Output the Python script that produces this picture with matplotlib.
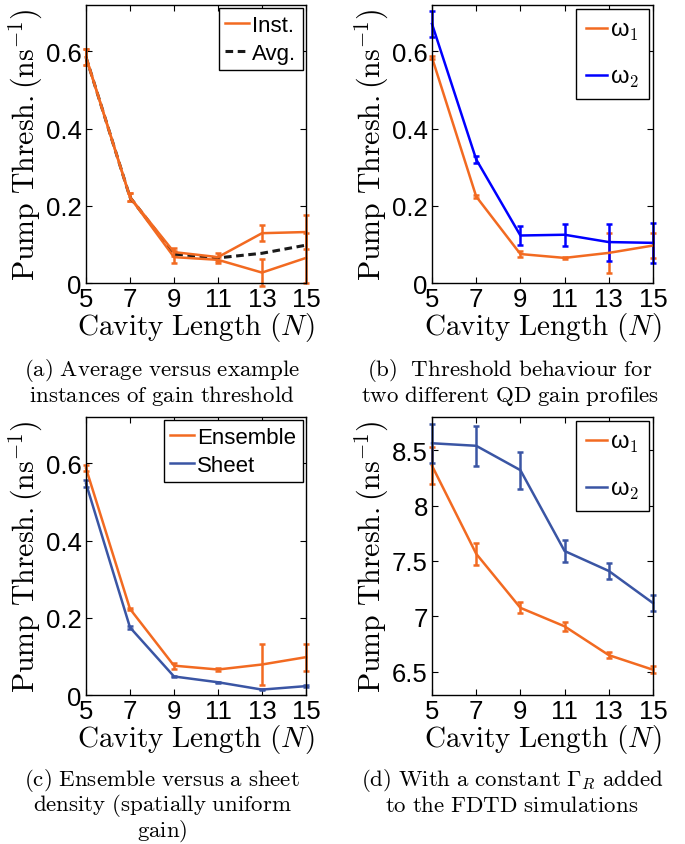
import matplotlib
matplotlib.use("Agg")
import matplotlib.pyplot as plt
from matplotlib.ticker import FuncFormatter

plt.rcParams['mathtext.fontset'] = 'cm'
plt.rcParams['font.family'] = ['Liberation Sans', 'DejaVu Sans']

ORANGE = '#F26A21'
BLUE_B = '#0000FF'
BLUE_CD = '#3A55A4'

N = [5, 7, 9, 11, 13, 15]

# (a) instances and average
a_inst1 = [0.585, 0.222, 0.080, 0.067, 0.129, 0.132]
a_inst1_err = [0.020, 0.010, 0.010, 0.010, 0.021, 0.043]
a_inst2 = [0.585, 0.222, 0.067, 0.060, 0.027, 0.065]
a_inst2_err = [0.020, 0.010, 0.016, 0.008, 0.036, 0.065]
a_avg = [0.585, 0.222, 0.075, 0.065, 0.077, 0.098]

# (b) two gain profiles
b_w1 = [0.584, 0.224, 0.075, 0.065, 0.078, 0.097]
b_w1_err = [0.004, 0.003, 0.007, 0.003, 0.051, 0.033]
b_w2 = [0.671, 0.320, 0.123, 0.125, 0.106, 0.104]
b_w2_err = [0.033, 0.010, 0.025, 0.028, 0.048, 0.052]

# (c) ensemble vs sheet
c_ens = [0.587, 0.223, 0.076, 0.066, 0.079, 0.098]
c_ens_err = [0.008, 0.003, 0.008, 0.003, 0.052, 0.035]
c_sheet = [0.548, 0.175, 0.048, 0.033, 0.014, 0.023]
c_sheet_err = [0.010, 0.003, 0.002, 0.001, 0.002, 0.002]

# (d) constant Gamma_R
d_w1 = [8.36, 7.565, 7.077, 6.91, 6.65, 6.518]
d_w1_err = [0.165, 0.10, 0.05, 0.04, 0.025, 0.03]
d_w2 = [8.563, 8.54, 8.32, 7.59, 7.41, 7.12]
d_w2_err = [0.177, 0.18, 0.167, 0.095, 0.075, 0.07]

captions = [
    [r'$\mathrm{(a)\ Average\ versus\ example}$', r'$\mathrm{instances\ of\ gain\ threshold}$'],
    [r'$\mathrm{(b)\ \ Threshold\ behaviour\ for}$', r'$\mathrm{two\ different\ QD\ gain\ profiles}$'],
    [r'$\mathrm{(c)\ Ensemble\ versus\ a\ sheet}$', r'$\mathrm{density\ (spatially\ uniform}$', r'$\mathrm{gain)}$'],
    [r'$\mathrm{(d)\ With\ a\ constant\ }\Gamma_R\mathrm{\ added}$', r'$\mathrm{to\ the\ FDTD\ simulations}$'],
]

W, H = 685, 845
fig = plt.figure(figsize=(W / 100, H / 100), dpi=100)

def rect(l, r, t, b):
    return [l / W, 1 - b / H, (r - l) / W, (b - t) / H]

axA = fig.add_axes(rect(86, 306, 6, 284))
axB = fig.add_axes(rect(432, 653, 6, 284))
axC = fig.add_axes(rect(86, 306, 418, 696))
axD = fig.add_axes(rect(432, 653, 418, 696))

def fmt(v, pos):
    s = ('%.2f' % v).rstrip('0').rstrip('.')
    return s

def style(ax, ylim, yticks):
    ax.set_xlim(5, 15)
    ax.set_ylim(*ylim)
    ax.set_xticks(N)
    ax.set_yticks(yticks)
    ax.yaxis.set_major_formatter(FuncFormatter(fmt))
    ax.tick_params(direction='in', top=True, right=True, length=4, width=0.8,
                   labelsize=18.5, pad=3)
    for s in ax.spines.values():
        s.set_linewidth(1.0)
    ax.set_xlabel(r'$\mathrm{Cavity\ Length\ (}N\mathrm{)}$', fontsize=21, labelpad=-1)
    ax.set_ylabel(r'$\mathrm{Pump\ Thresh.(ns}^{-1}\mathrm{)}$', fontsize=21.5, labelpad=1)

ekw = dict(lw=1.8, capsize=2, elinewidth=1.8, capthick=1.8, clip_on=False)

leg_small = dict(loc='upper right', fontsize=16, handlelength=1.05, handletextpad=0.15,
                 borderpad=0.3, labelspacing=0.3, fancybox=False, edgecolor='black',
                 framealpha=1, borderaxespad=0.15)
leg_w = dict(loc='upper right', fontsize=17, handlelength=0.9, handletextpad=0.1,
             borderpad=0.45, labelspacing=1.0, fancybox=False, edgecolor='black',
             framealpha=1, borderaxespad=0.15)

# (a)
l1 = axA.errorbar(N, a_inst1, yerr=a_inst1_err, color=ORANGE, **ekw)
axA.errorbar(N, a_inst2, yerr=a_inst2_err, color=ORANGE, **ekw)
l3, = axA.plot(N, a_avg, color='#1a1a1a', ls=(0, (2.5, 1.5)), lw=2.2, clip_on=False)
style(axA, (0, 0.72), [0, 0.2, 0.4, 0.6])
axA.legend([l1.lines[0], l3], ['Inst.', 'Avg.'], **leg_small)

# (b)
w1 = axB.errorbar(N, b_w1, yerr=b_w1_err, color=ORANGE, **ekw)
w2 = axB.errorbar(N, b_w2, yerr=b_w2_err, color=BLUE_B, **ekw)
style(axB, (0, 0.72), [0, 0.2, 0.4, 0.6])
lab_w = [r'ω$_{\mathsf{1}}$', r'ω$_{\mathsf{2}}$']
axB.legend([w1.lines[0], w2.lines[0]], lab_w, **leg_w)

# (c)
e1 = axC.errorbar(N, c_ens, yerr=c_ens_err, color=ORANGE, **ekw)
e2 = axC.errorbar(N, c_sheet, yerr=c_sheet_err, color=BLUE_CD, **ekw)
style(axC, (0, 0.72), [0, 0.2, 0.4, 0.6])
axC.legend([e1.lines[0], e2.lines[0]], ['Ensemble', 'Sheet'], **leg_small)

# (d)
d1 = axD.errorbar(N, d_w1, yerr=d_w1_err, color=ORANGE, **ekw)
d2 = axD.errorbar(N, d_w2, yerr=d_w2_err, color=BLUE_CD, **ekw)
style(axD, (6.29, 8.8), [6.5, 7, 7.5, 8, 8.5])
axD.legend([d1.lines[0], d2.lines[0]], lab_w, **leg_w)

for ax in (axA, axB, axC, axD):
    ax.set_zorder(1)
    ax.get_legend().set_zorder(5)

# captions
cap_pos = [(162, 371), (510, 371), (162, 781), (512, 781)]
for (cx, cy), lines in zip(cap_pos, captions):
    for i, t in enumerate(lines):
        fig.text(cx / W, 1 - (cy + i * 25) / H, t, ha='center', va='center', fontsize=16.5)

fig.savefig('out.png', dpi=100)
